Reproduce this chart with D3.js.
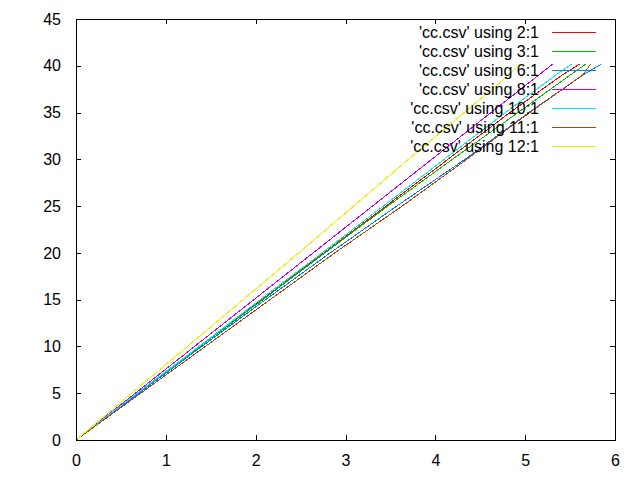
<!DOCTYPE html>
<html>
<head>
<meta charset="utf-8">
<script src="https://cdn.jsdelivr.net/npm/d3@7/dist/d3.min.js"></script>
<style>
  html, body { margin: 0; padding: 0; background: #fff; }
  svg { display: block; }
  text { font-family: "Liberation Sans", Arial, sans-serif; font-size: 16px; fill: #000; }
</style>
</head>
<body>
<script>
// Shared y values (column 1 of cc.csv)
const yValues = [0, 5, 10, 15, 20, 25, 30, 35, 39, 40.2];

// x values for each plotted column
const col2  = [0, 0.69, 1.38, 2.07, 2.76, 3.45, 4.14, 4.83, 5.41, 5.61];
const col3  = [0, 0.69, 1.38, 2.08, 2.77, 3.47, 4.19, 4.92, 5.50, 5.68];
const col6  = [0, 0.70, 1.40, 2.11, 2.83, 3.57, 4.33, 5.04, 5.64, 5.85];
const col8  = [0, 0.66, 1.32, 1.98, 2.64, 3.30, 3.96, 4.62, 5.15, 5.31];
const col10 = [0, 0.68, 1.37, 2.05, 2.74, 3.42, 4.10, 4.78, 5.34, 5.52];
const col11 = [0, 0.72, 1.44, 2.16, 2.88, 3.63, 4.35, 5.05, 5.64, 5.73];
const col12 = [0, 0.62, 1.24, 1.86, 2.48, 3.09, 3.70, 4.32, 4.82, 4.94];

const seriesLabels = ["'cc.csv' using 2:1", "'cc.csv' using 3:1", "'cc.csv' using 6:1",
  "'cc.csv' using 8:1", "'cc.csv' using 10:1", "'cc.csv' using 11:1", "'cc.csv' using 12:1"];
const seriesX = [col2, col3, col6, col8, col10, col11, col12];
const seriesColors = ["#ff0000", "#00c000", "#0080ff", "#c000ff", "#00eeee", "#c04000", "#eeee00"];

const xTicks = [0, 1, 2, 3, 4, 5, 6];
const yTicks = [0, 5, 10, 15, 20, 25, 30, 35, 40, 45];

const W = 640, H = 480;
const L = 76, R = 615, T = 19, B = 440;

const svg = d3.select("body").append("svg").attr("width", W).attr("height", H);

const x = d3.scaleLinear().domain([0, 6]).range([L, R]);
const y = d3.scaleLinear().domain([0, 45]).range([B, T]);

// Data lines
const line = d3.line().x(d => x(d[0])).y(d => y(d[1]));
seriesX.forEach((xs, i) => {
  const pts = xs.map((v, j) => [v, yValues[j]]);
  svg.append("path")
    .attr("d", line(pts))
    .attr("fill", "none")
    .attr("stroke", seriesColors[i])
    .attr("stroke-width", 1)
    .attr("shape-rendering", "crispEdges");
});

// Axes with inward ticks (mirrored)
const tl = 5;
const gx = svg.append("g").attr("transform", `translate(0,${B})`)
  .call(d3.axisBottom(x).tickValues(xTicks).tickSize(-tl).tickPadding(tl + 10).tickFormat(d3.format("d")));
const gxt = svg.append("g").attr("transform", `translate(0,${T})`)
  .call(d3.axisTop(x).tickValues(xTicks).tickSize(-tl).tickFormat(""));
const gy = svg.append("g").attr("transform", `translate(${L},0)`)
  .call(d3.axisLeft(y).tickValues(yTicks).tickSize(-tl).tickPadding(tl + 10).tickFormat(d3.format("d")));
const gyr = svg.append("g").attr("transform", `translate(${R},0)`)
  .call(d3.axisRight(y).tickValues(yTicks).tickSize(-tl).tickFormat(""));

[gx, gxt, gy, gyr].forEach(g => {
  g.select(".domain").remove();
  g.selectAll("line").attr("stroke", "#000").attr("shape-rendering", "crispEdges");
  g.selectAll("text").attr("font-family", "Liberation Sans, Arial, sans-serif").attr("font-size", 16).attr("fill", "#000");
});

// Border
svg.append("rect").attr("x", L + 0.5).attr("y", T + 0.5)
  .attr("width", R - L).attr("height", B - T)
  .attr("fill", "none").attr("stroke", "#000").attr("stroke-width", 1)
  .attr("shape-rendering", "crispEdges");

// Legend
const legTextX = 539, legLineX1 = 552, legLineX2 = 596, legY0 = 32, legDy = 19;
seriesLabels.forEach((lab, i) => {
  const yy = legY0 + i * legDy;
  svg.append("text").attr("x", legTextX).attr("y", yy).attr("text-anchor", "end")
    .attr("dominant-baseline", "central").text(lab);
  svg.append("line").attr("x1", legLineX1).attr("x2", legLineX2)
    .attr("y1", yy + 0.5).attr("y2", yy + 0.5)
    .attr("stroke", seriesColors[i]).attr("stroke-width", 1)
    .attr("shape-rendering", "crispEdges");
});
</script>
</body>
</html>
